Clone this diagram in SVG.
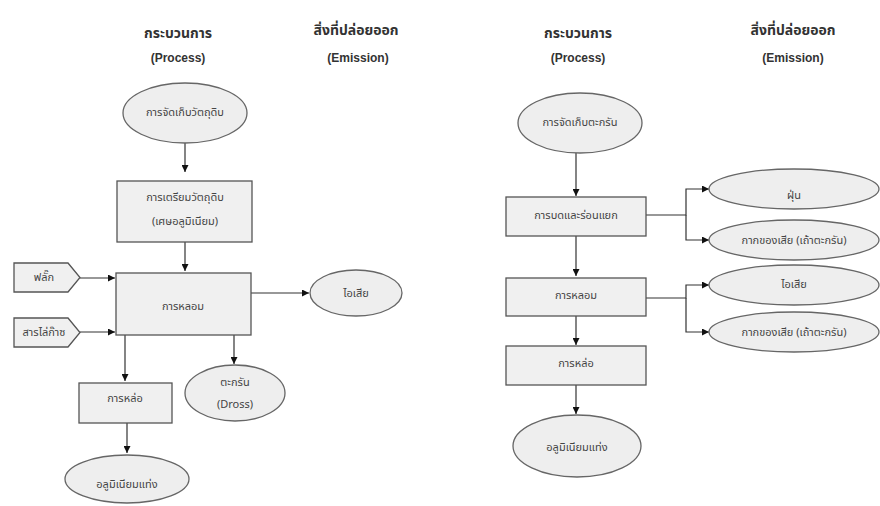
<svg xmlns="http://www.w3.org/2000/svg" width="880" height="506" viewBox="0 0 880 506">
<defs>
<style>
.bg{fill:#ffffff}
.el{fill:#eeeeee;stroke:#666666;stroke-width:1.3}
.bx{fill:#f0f0f0;stroke:#555555;stroke-width:1.3}
.t{font-family:"Noto Sans Thai","Loma","Garuda","Liberation Sans","Noto Sans",sans-serif;font-size:11px;fill:#444444;text-anchor:middle;dominant-baseline:central}
.h{font-family:"Noto Sans Thai","Loma","Garuda","Liberation Sans",sans-serif;font-size:14px;font-weight:bold;fill:#333333;text-anchor:middle}
.he{font-family:"Liberation Sans",Arial,sans-serif;font-size:12px;font-weight:bold;fill:#333333;text-anchor:middle}
.c{fill:none;stroke:#333333;stroke-width:1.2}
</style>
<marker id="arr" viewBox="0 0 10 10" refX="10" refY="5" markerWidth="7" markerHeight="7" orient="auto" markerUnits="userSpaceOnUse">
<path d="M0,0 L10,5 L0,10 z" fill="#111111"/>
</marker>
</defs>
<rect class="bg" x="0" y="0" width="880" height="506"/>

<g id="headers">
<text class="h" x="178" y="38">กระบวนการ</text>
<text class="he" x="178" y="62">(Process)</text>
<text class="h" x="356" y="35">สิ่งที่ปล่อยออก</text>
<text class="he" x="358" y="62">(Emission)</text>
<text class="h" x="578" y="38">กระบวนการ</text>
<text class="he" x="578" y="62">(Process)</text>
<text class="h" x="793" y="35">สิ่งที่ปล่อยออก</text>
<text class="he" x="793" y="62">(Emission)</text>
</g>

<g id="connectors">
<line class="c" x1="185" y1="143" x2="185" y2="172" marker-end="url(#arr)"/>
<line class="c" x1="185" y1="242" x2="185" y2="271" marker-end="url(#arr)"/>
<line class="c" x1="80" y1="278" x2="115" y2="278" marker-end="url(#arr)"/>
<line class="c" x1="80" y1="332" x2="115" y2="332" marker-end="url(#arr)"/>
<line class="c" x1="251" y1="293" x2="309" y2="293" marker-end="url(#arr)"/>
<line class="c" x1="125" y1="335" x2="125" y2="381" marker-end="url(#arr)"/>
<line class="c" x1="234" y1="335" x2="234" y2="364" marker-end="url(#arr)"/>
<line class="c" x1="127" y1="423" x2="127" y2="453" marker-end="url(#arr)"/>

<line class="c" x1="576" y1="153" x2="576" y2="196" marker-end="url(#arr)"/>
<polyline class="c" points="646,215 686,215 686,189 709,189" marker-end="url(#arr)"/>
<polyline class="c" points="686,215 686,240 709,240" marker-end="url(#arr)"/>
<line class="c" x1="576" y1="236" x2="576" y2="276" marker-end="url(#arr)"/>
<polyline class="c" points="646,298 686,298 686,285 709,285" marker-end="url(#arr)"/>
<polyline class="c" points="686,298 686,332 709,332" marker-end="url(#arr)"/>
<line class="c" x1="576" y1="316" x2="576" y2="345" marker-end="url(#arr)"/>
<line class="c" x1="576" y1="385" x2="576" y2="414" marker-end="url(#arr)"/>
</g>

<g id="L_store">
<ellipse class="el" cx="185" cy="113" rx="62" ry="30"/>
<text class="t" x="185" y="112">การจัดเก็บวัตถุดิบ</text>
</g>
<g id="L_prep">
<rect class="bx" x="117" y="181" width="135" height="61"/>
<text class="t" x="185" y="197">การเตรียมวัตถุดิบ</text>
<text class="t" x="185" y="221">(เศษอลูมิเนียม)</text>
</g>
<g id="L_flux">
<polygon class="bx" points="14,263 68,263 80,277.5 68,292 14,292"/>
<text class="t" x="44" y="277">ฟลั๊ก</text>
</g>
<g id="L_degas">
<polygon class="bx" points="14,318 68,318 80,332.5 68,347 14,347"/>
<text class="t" x="44" y="332">สารไล่ก๊าซ</text>
</g>
<g id="L_melt">
<rect class="bx" x="116" y="273" width="135" height="62"/>
<text class="t" x="183" y="306">การหลอม</text>
</g>
<g id="L_fume">
<ellipse class="el" cx="356" cy="293" rx="46" ry="23"/>
<text class="t" x="356" y="293">ไอเสีย</text>
</g>
<g id="L_dross">
<ellipse class="el" cx="235" cy="393" rx="50" ry="28"/>
<text class="t" x="235" y="382">ตะกรัน</text>
<text class="t" x="235" y="404">(Dross)</text>
</g>
<g id="L_cast">
<rect class="bx" x="79" y="383" width="93" height="40"/>
<text class="t" x="125" y="398">การหล่อ</text>
</g>
<g id="L_ingot">
<ellipse class="el" cx="127" cy="479" rx="62" ry="24"/>
<text class="t" x="127" y="484">อลูมิเนียมแท่ง</text>
</g>

<g id="R_store">
<ellipse class="el" cx="580" cy="123" rx="62" ry="30"/>
<text class="t" x="580" y="122">การจัดเก็บตะกรัน</text>
</g>
<g id="R_grind">
<rect class="bx" x="506" y="197" width="140" height="39"/>
<text class="t" x="576" y="215">การบดและร่อนแยก</text>
</g>
<g id="R_dust">
<ellipse class="el" cx="794" cy="189" rx="85" ry="20"/>
<text class="t" x="794" y="195">ฝุ่น</text>
</g>
<g id="R_waste1">
<ellipse class="el" cx="794" cy="240" rx="85" ry="20"/>
<text class="t" x="794" y="240">กากของเสีย (เถ้าตะกรัน)</text>
</g>
<g id="R_melt">
<rect class="bx" x="506" y="278" width="140" height="38"/>
<text class="t" x="576" y="295">การหลอม</text>
</g>
<g id="R_fume">
<ellipse class="el" cx="794" cy="285" rx="85" ry="20"/>
<text class="t" x="794" y="284">ไอเสีย</text>
</g>
<g id="R_waste2">
<ellipse class="el" cx="794" cy="332" rx="85" ry="20"/>
<text class="t" x="794" y="332">กากของเสีย (เถ้าตะกรัน)</text>
</g>
<g id="R_cast">
<rect class="bx" x="506" y="346" width="140" height="39"/>
<text class="t" x="576" y="363">การหล่อ</text>
</g>
<g id="R_ingot">
<ellipse class="el" cx="577" cy="446" rx="64" ry="31"/>
<text class="t" x="577" y="447">อลูมิเนียมแท่ง</text>
</g>
</svg>
